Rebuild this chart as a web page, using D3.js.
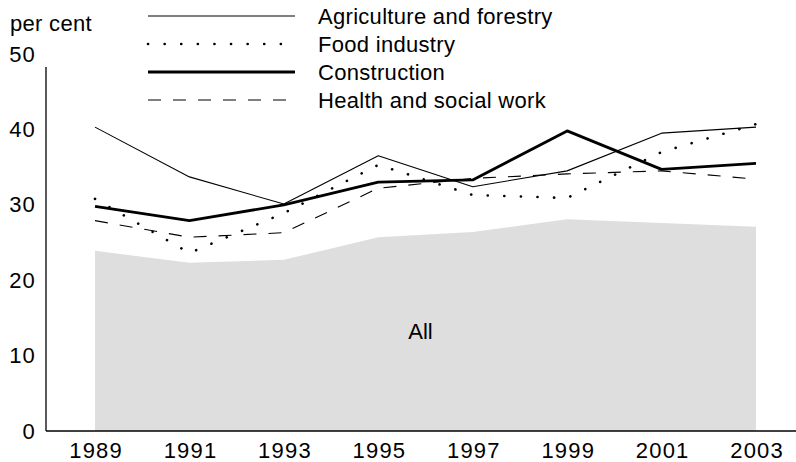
<!DOCTYPE html>
<html>
<head>
<meta charset="utf-8">
<script src="https://cdn.jsdelivr.net/npm/d3@7"></script>
<style>
  html, body { margin: 0; padding: 0; background: #fff; }
  svg { display: block; font-family: "Liberation Sans", Arial, Helvetica, sans-serif; }
</style>
</head>
<body>
<svg id="chart" width="796" height="462"></svg>
<script>
const years = [1989, 1991, 1993, 1995, 1997, 1999, 2001, 2003];
const allValues = [23.9, 22.3, 22.7, 25.7, 26.4, 28.1, 27.6, 27.1];
const agriculture = [40.3, 33.7, 30.1, 36.5, 32.4, 34.5, 39.5, 40.3];
const food = [30.8, 23.6, 28.9, 35.3, 31.3, 30.9, 37.0, 40.7];
const construction = [29.8, 27.9, 30.0, 33.0, 33.3, 39.8, 34.7, 35.5];
const health = [27.9, 25.7, 26.3, 32.2, 33.5, 34.1, 34.5, 33.4];
const yTicks = [0, 10, 20, 30, 40, 50];
const seriesNames = ["Agriculture and forestry", "Food industry", "Construction", "Health and social work"];

const svg = d3.select("#chart");
const x = d3.scaleLinear().domain([1989, 2003]).range([95, 756]);
const y = d3.scaleLinear().domain([0, 50]).range([431, 54]);

const FS = 22;

// Area "All"
const area = d3.area().x((d, i) => x(years[i])).y0(y(0)).y1(d => y(d));
svg.append("path").datum(allValues).attr("d", area).attr("fill", "#dedede");

svg.append("text").attr("x", x(1995) + 30).attr("y", y(12.4) + 1)
  .attr("font-size", FS).attr("fill", "#000").text("All");

// Axes
const yAxis = d3.axisLeft(y).tickValues(yTicks).tickSize(0).tickPadding(10);
const gy = svg.append("g").attr("transform", "translate(46,0)").call(yAxis);
gy.select(".domain").remove();
gy.selectAll("text").attr("font-size", FS).attr("font-family", null)
  .attr("letter-spacing", 1.2).attr("fill", "#000");
svg.append("line").attr("x1", 46).attr("x2", 46).attr("y1", 67).attr("y2", y(0))
  .attr("stroke", "#000").attr("stroke-width", 1.3);

const xAxis = d3.axisBottom(x).tickValues(years).tickFormat(d3.format("d")).tickSize(0).tickPadding(11);
const gx = svg.append("g").attr("transform", `translate(0,${y(0)})`).call(xAxis);
gx.select(".domain").remove();
gx.selectAll("text").attr("font-size", FS).attr("font-family", null)
  .attr("letter-spacing", 1.2).attr("dx", 0.6).attr("fill", "#000");
svg.append("line").attr("x1", 46).attr("x2", 796).attr("y1", y(0)).attr("y2", y(0))
  .attr("stroke", "#000").attr("stroke-width", 1.3);

svg.append("text").attr("x", 10).attr("y", 31).attr("font-size", FS)
  .attr("letter-spacing", 0.3).attr("fill", "#000").text("per cent");

// Lines
const styles = [
  { data: agriculture, width: 1.1, dash: null, cap: "butt" },
  { data: food, width: 2.6, dash: "0.1 16.5", cap: "round" },
  { data: construction, width: 2.8, dash: null, cap: "butt" },
  { data: health, width: 1.1, dash: "13 12", cap: "butt" }
];
const line = d3.line().x((d, i) => x(years[i])).y(d => y(d));
styles.forEach(s => {
  svg.append("path").datum(s.data).attr("d", line)
    .attr("fill", "none").attr("stroke", "#000")
    .attr("stroke-width", s.width)
    .attr("stroke-dasharray", s.dash)
    .attr("stroke-linecap", s.cap)
    .attr("stroke-linejoin", "round");
});

// Legend
const legendY = [16, 44, 72, 100];
styles.forEach((s, i) => {
  svg.append("line").attr("x1", 148).attr("x2", 295)
    .attr("y1", legendY[i]).attr("y2", legendY[i])
    .attr("stroke", "#000").attr("stroke-width", s.width)
    .attr("stroke-dasharray", s.dash).attr("stroke-linecap", s.cap);
  svg.append("text").attr("x", 318).attr("y", legendY[i] + 8)
    .attr("font-size", FS).attr("letter-spacing", 0.3)
    .attr("fill", "#000").text(seriesNames[i]);
});
</script>
</body>
</html>
